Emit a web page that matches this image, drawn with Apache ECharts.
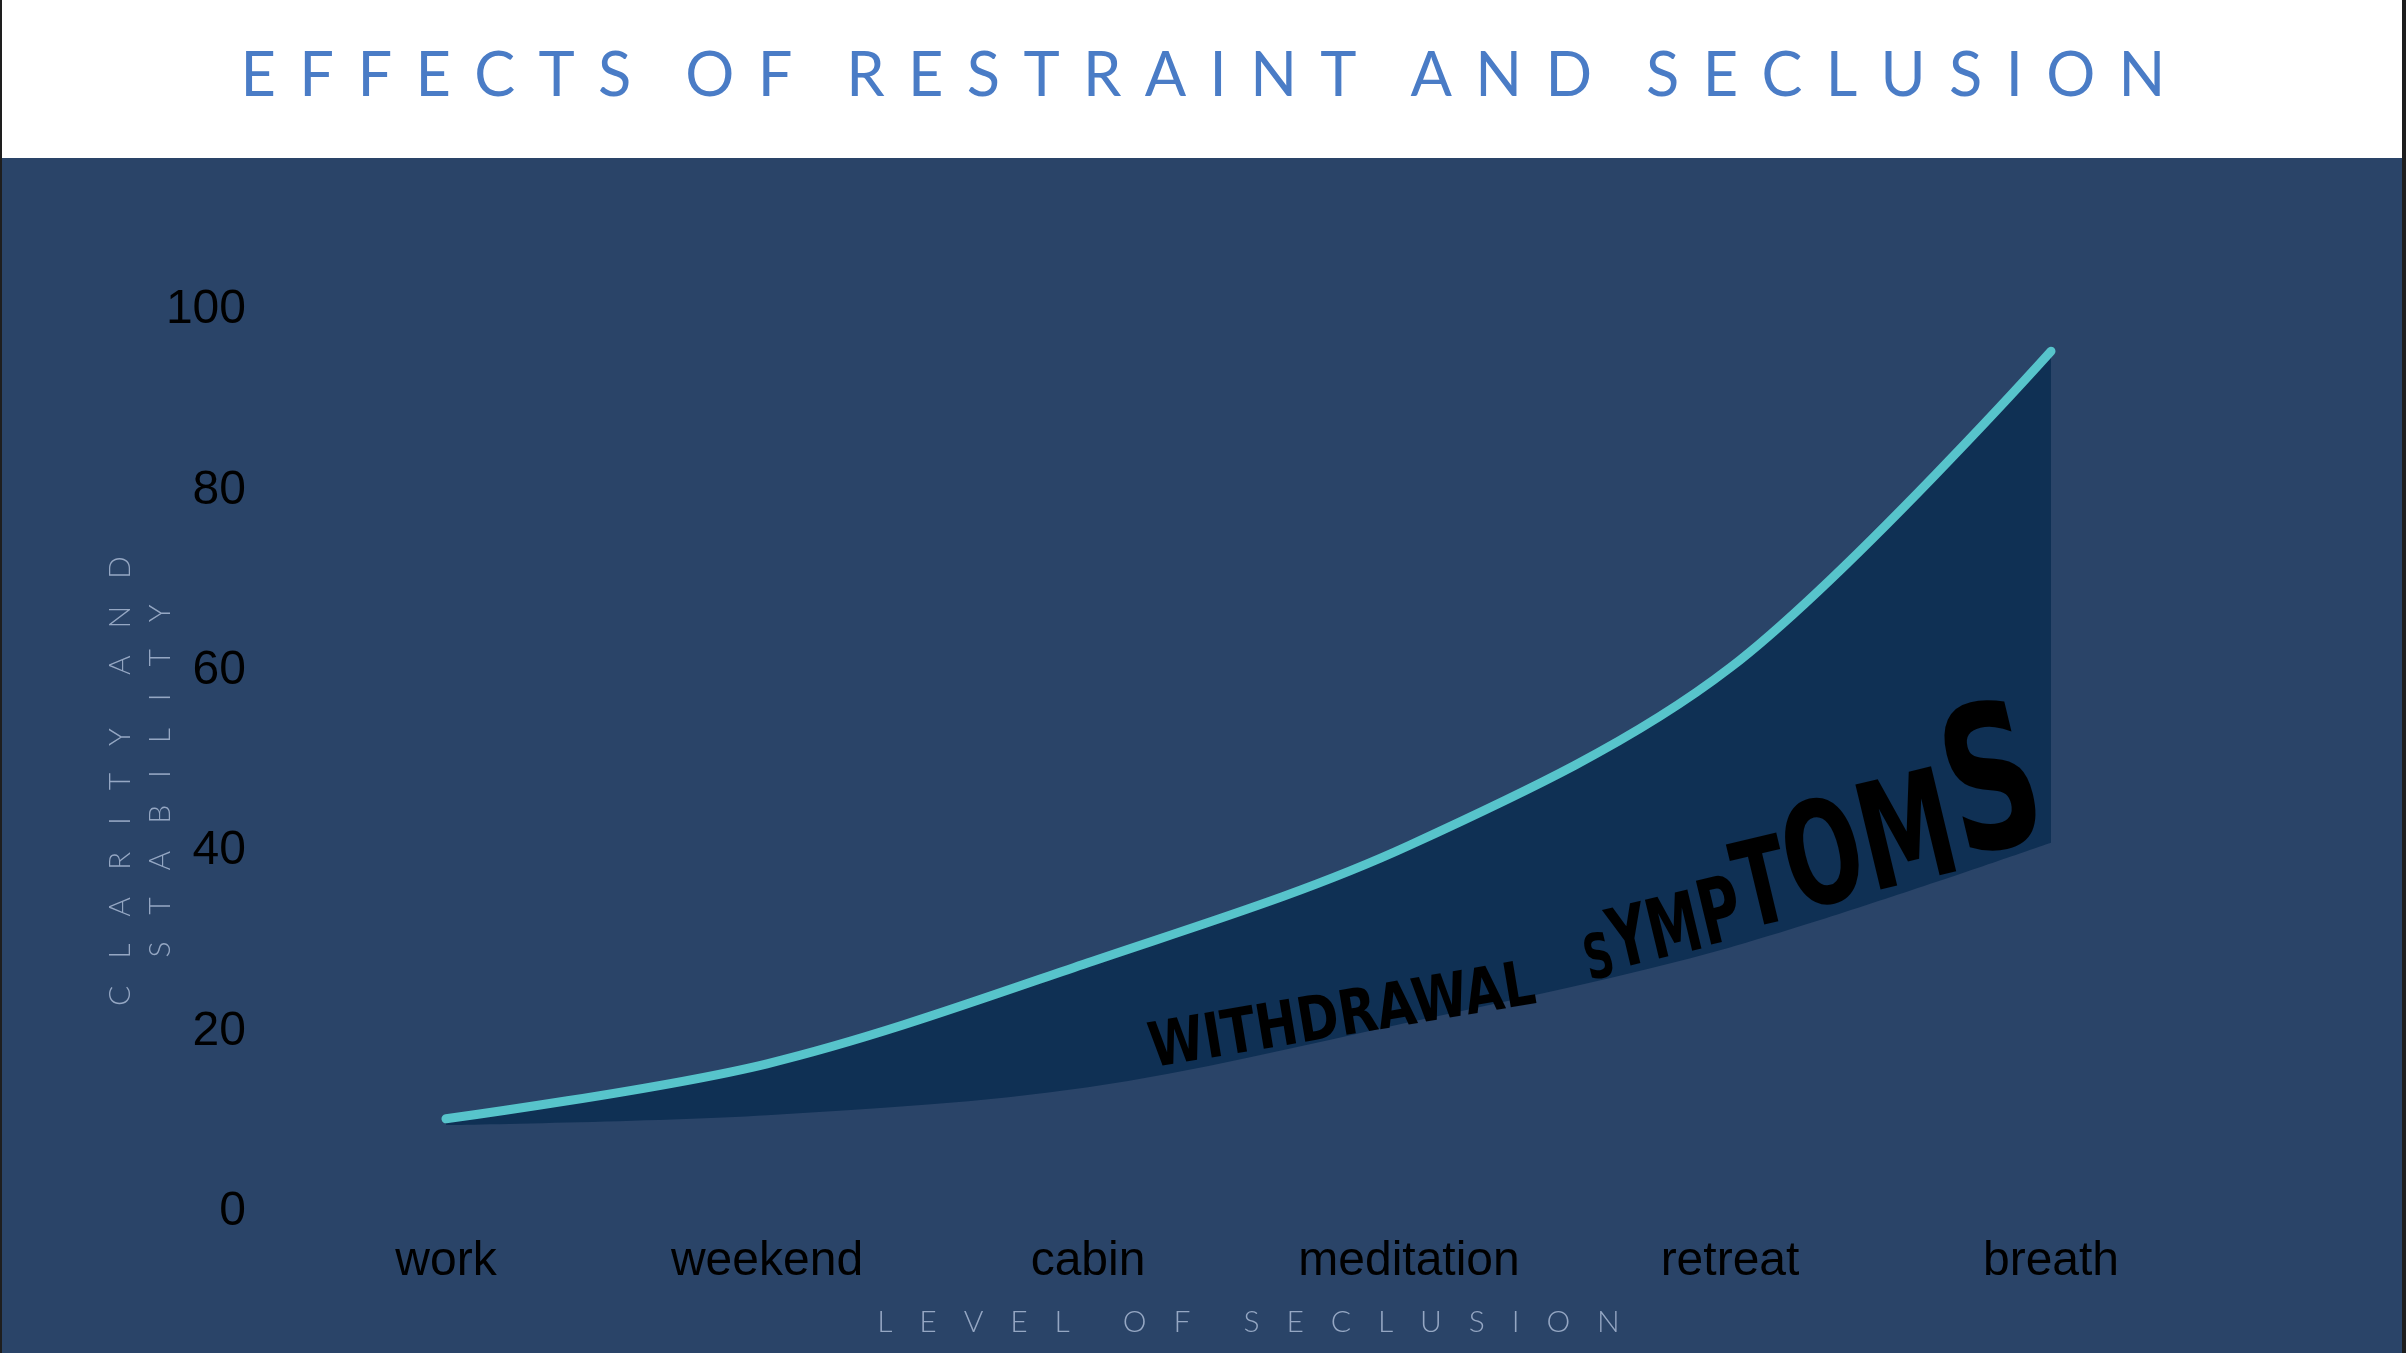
<!DOCTYPE html>
<html><head><meta charset="utf-8">
<script src="https://cdn.jsdelivr.net/npm/echarts@6/dist/echarts.min.js"></script>
<style>html,body{margin:0;padding:0;background:#2a4468;overflow:hidden}#c{width:2406px;height:1353px}</style>
</head><body><div id="c"></div>
<script>
// ---- data ----
const categories = ['work', 'weekend', 'cabin', 'meditation', 'retreat', 'breath'];
const clarityValues = [10, 16.1, 27.3, 40.3, 60, 95.1];       // teal line
const symptomFloor  = [9.3, 10.4, 13.5, 20.7, 29, 40.6];      // lower edge of shaded band
const yMin = 0, yMax = 100, yStep = 20;
const titleText = 'EFFECTS OF RESTRAINT AND SECLUSION';
const xName = 'LEVEL OF SECLUSION';
const yNameLines = ['CLARITY AND', 'STABILITY'];
const bandLabelA = 'WITHDRAWAL';
const bandLabelB = 'SYMPTOMS';

// ---- helpers / styles ----
function spaced(s, letterSep, wordSep) {
  return s.split(' ').map(w => w.split('').join(letterSep)).join(wordSep);
}
const bandWidth = clarityValues.map((v, i) => +(v - symptomFloor[i]).toFixed(2));

const NAVY = '#2a4468', FILL = '#0f3054', TEAL = '#57c4cb', TITLE = '#4a7cc6', NAMEC = '#95a7c3';
const SMOOTH = 0.33;
const labelFont = '"Liberation Sans", Arial, sans-serif';
const nameStyle = { color: NAMEC, fontFamily: 'Lato', fontWeight: 300, fontSize: 30 };
const brushFont = '"Liberation Sans Narrow", "DejaVu Sans Condensed", sans-serif';
const growSizes = [62, 83, 83, 90, 119, 143, 148, 200];
const rich = {};
growSizes.forEach((fs, i) => {
  rich['s' + i] = { fontSize: fs, fontFamily: brushFont, fontWeight: 'bold', fill: '#000', verticalAlign: 'bottom', lineHeight: fs };
});
const symptomsRich = bandLabelB.split('').map((ch, i) => '{s' + i + '|' + ch + '}').join('');

const chart = echarts.init(document.getElementById('c'), null, { renderer: 'canvas' });
chart.setOption({
  backgroundColor: NAVY,
  animation: false,
  title: {
    text: spaced(titleText, ' \u2009', '\u2002 \u2009'),
    left: 'center', top: 41,
    textStyle: { color: TITLE, fontSize: 61.3, fontFamily: 'Lato', fontWeight: 400 }
  },
  grid: { left: 446, right: 355, top: 307, bottom: 144 },
  xAxis: {
    type: 'category', data: categories, boundaryGap: false,
    axisLine: { show: false }, axisTick: { show: false }, splitLine: { show: false },
    axisLabel: { color: '#000', fontSize: 48, fontFamily: labelFont, margin: 29 },
    name: spaced(xName, '\u2002 \u2009', '\u2003\u2003 '),
    nameLocation: 'middle', nameGap: 98, nameMoveOverlap: false, nameTextStyle: nameStyle
  },
  yAxis: {
    type: 'value', min: yMin, max: yMax, interval: yStep,
    axisLine: { show: false }, axisTick: { show: false }, splitLine: { show: false },
    axisLabel: {
      margin: 200, formatter: '{v|{value}}',
      rich: { v: { color: '#000', fontSize: 48, fontFamily: labelFont, padding: [6, 0, 0, 0] } }
    },
    name: yNameLines.map(l => spaced(l, '\u2002 \u2009', '\u2003\u2003 ')).join('\n'),
    nameLocation: 'middle', nameRotate: 90, nameGap: 266, nameMoveOverlap: false,
    nameTextStyle: Object.assign({ lineHeight: 40, padding: [0, 46, 0, 0] }, nameStyle)
  },
  series: [
    {
      name: 'floor', type: 'line', data: symptomFloor, stack: 'band', smooth: SMOOTH,
      symbol: 'none', silent: true, lineStyle: { opacity: 0 }
    },
    {
      name: 'withdrawal', type: 'line', data: bandWidth, stack: 'band', smooth: SMOOTH,
      symbol: 'none', silent: true, lineStyle: { opacity: 0 },
      areaStyle: { color: FILL, opacity: 1 }
    },
    {
      name: 'clarity', type: 'line', data: clarityValues, smooth: SMOOTH, z: 5,
      symbol: 'none', lineStyle: { color: TEAL, width: 9, cap: 'round' }
    }
  ],
  graphic: [
    { type: 'rect', z: -10, shape: { x: 0, y: 0, width: 2406, height: 158 }, style: { fill: '#ffffff' } },
    { type: 'rect', z: 100, shape: { x: 0, y: 0, width: 2, height: 1353 }, style: { fill: '#1e1e1e' } },
    { type: 'rect', z: 100, shape: { x: 2402, y: 0, width: 4, height: 1353 }, style: { fill: '#1e1e1e' } },
    {
      type: 'text', z: 20, x: 1155, y: 1082, rotation: 9.5 * Math.PI / 180, scaleX: 0.9,
      style: { text: bandLabelA, fill: '#000', font: 'bold 62px ' + brushFont, align: 'left', verticalAlign: 'bottom' }
    },
    {
      type: 'text', z: 20, x: 1593, y: 995, rotation: 13.5 * Math.PI / 180, scaleX: 0.72,
      style: { text: symptomsRich, rich: rich, fill: '#000', align: 'left', verticalAlign: 'bottom' }
    }
  ]
});
</script></body></html>
